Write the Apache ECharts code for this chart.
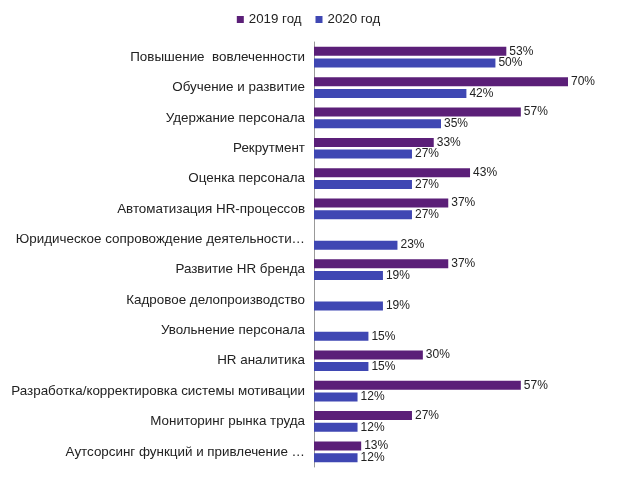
<!DOCTYPE html>
<html><head><meta charset="utf-8">
<script src="https://cdn.jsdelivr.net/npm/echarts@6/dist/echarts.min.js"></script>
<style>html,body{margin:0;padding:0;background:#fff}#c{width:617px;height:481px}</style>
</head><body><div id="c"></div>
<script>
const categories = ["Повышение  вовлеченности","Обучение и развитие","Удержание персонала","Рекрутмент","Оценка персонала","Автоматизация HR-процессов","Юридическое сопровождение деятельности…","Развитие HR бренда","Кадровое делопроизводство","Увольнение персонала","HR аналитика","Разработка/корректировка системы мотивации","Мониторинг рынка труда","Аутсорсинг функций и привлечение …"];
const values2019 = [53,70,57,33,43,37,null,37,null,null,30,57,27,13];
const values2020 = [50,42,35,27,27,27,23,19,19,15,15,12,12,12];
const chart = echarts.init(document.getElementById('c'));
const lbl = {show:true,position:'right',formatter:'{c}%',color:'#222',fontSize:12,fontFamily:'Arial, Liberation Sans',distance:3};
chart.setOption({
  animation:false,
  legend:{top:8,left:'center',itemWidth:7,itemHeight:7,itemGap:14,icon:'rect',textStyle:{fontSize:13.3,color:'#222',fontFamily:'Arial, Liberation Sans'}},
  grid:{left:314,right:49,top:42,bottom:14,containLabel:false},
  xAxis:{type:'value',min:0,max:70,show:false},
  yAxis:{type:'category',data:categories,inverse:true,axisTick:{show:false},
    axisLine:{lineStyle:{color:'#999'}},
    axisLabel:{fontSize:13.4,color:'#222',margin:9,fontFamily:'Arial, Liberation Sans'}},
  series:[
    {name:'2019 год',type:'bar',data:values2019,barWidth:9,barGap:'30%',itemStyle:{color:'#5b1f78'},label:lbl},
    {name:'2020 год',type:'bar',data:values2020,barWidth:9,itemStyle:{color:'#3f47b3'},label:lbl}
  ]
});
</script></body></html>
